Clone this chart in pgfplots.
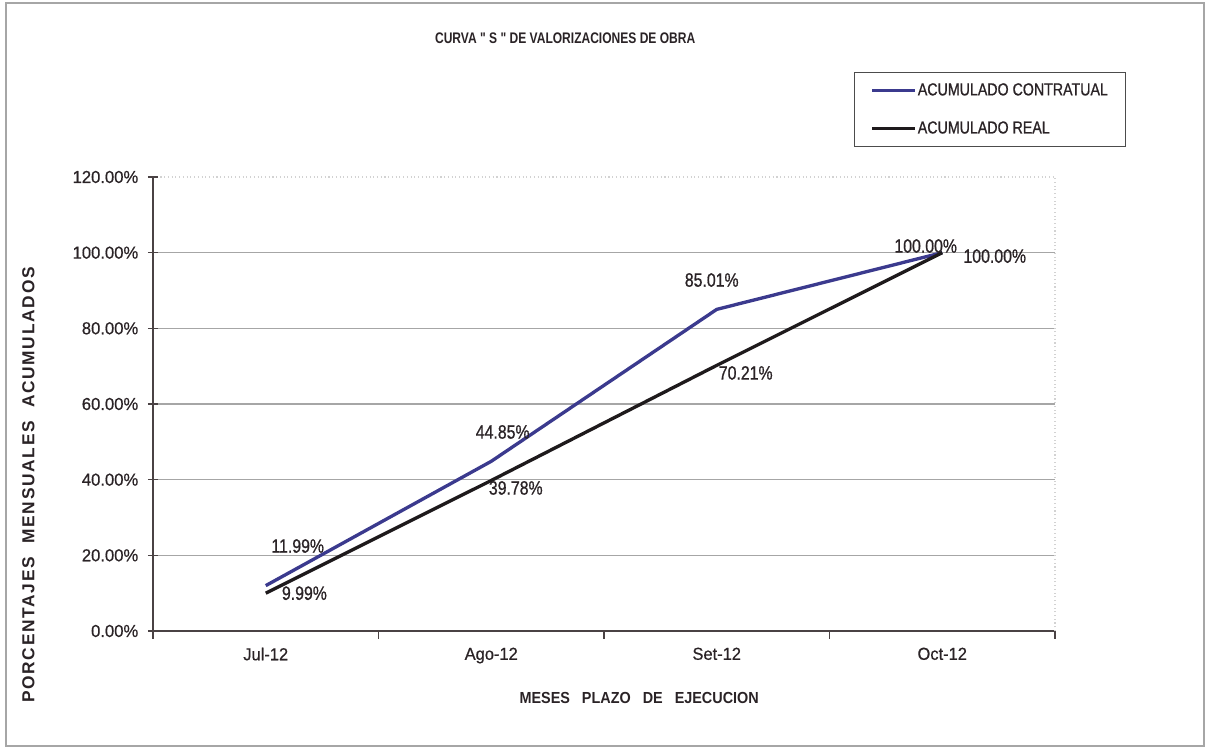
\documentclass[border=0pt]{standalone}
\usepackage{pgfplots}
\pgfplotsset{compat=1.18}
\usepackage{fontspec}
\setmainfont{Liberation Sans}
\newfontfamily\narrow[FakeStretch=0.82, FakeBold=0.8]{Liberation Sans}
\newfontfamily\ytl[FakeStretch=0.96, FakeBold=0.6]{Liberation Sans}
\newfontfamily\xtl[FakeStretch=0.95, FakeBold=0.6]{Liberation Sans}
\newfontfamily\xlab[FakeStretch=0.9]{Liberation Sans}
\newfontfamily\titlef[FakeStretch=0.785]{Liberation Sans}
\newfontfamily\wide[LetterSpace=10]{Liberation Sans}
\definecolor{blueline}{HTML}{3B3A8E}
\definecolor{blackline}{HTML}{1E1A1C}
\definecolor{axisc}{HTML}{4A4244}
\definecolor{txt}{HTML}{2A2326}
\tikzset{lbl/.style={font=\narrow\fontsize{14.5}{16}\selectfont, text=txt, inner sep=0pt}}
\begin{document}
\begin{tikzpicture}[x=1pt,y=1pt]
\useasboundingbox (0,0) rectangle (906,561.75);
\draw[gray!70, line width=0.9pt] (4.5,2.25) rectangle (903,559.5);
\begin{axis}[
  at={(114.75pt,88.5pt)}, anchor=south west,
  scale only axis, width=676.5pt, height=340.5pt,
  xmin=-0.5, xmax=3.5, ymin=0, ymax=120,
  axis lines=left, axis line style={-, axisc, line width=1.5pt},
  xtick={0,1,2,3}, xticklabels={Jul-12,Ago-12,Set-12,Oct-12},
  major x tick style={draw=none},
  minor xtick={-0.5,0.5,1.5,2.5,3.5},
  minor x tick style={axisc, line width=1pt},
  minor tick length=6pt,
  xtick align=outside,
  ytick={0,20,...,100}, extra y ticks={120},
  ytick align=center, major tick length=7.5pt,
  ytick style={axisc, line width=1pt},
  ymajorgrids, grid style={gray!70, line width=0.8pt},
  extra y tick style={grid style={gray!35, dotted, line width=0.8pt}},
  /pgf/number format/assume math mode=true,
  yticklabel={\pgfmathprintnumber[fixed,fixed zerofill,precision=2]{\tick}\%},
  y tick label style={font=\ytl\fontsize{13}{15}\selectfont, text=txt, xshift=-3.75pt},
  x tick label style={font=\xtl\fontsize{13}{15}\selectfont, text=txt, yshift=-1.5pt},
  every axis title shift=0pt,
  title={CURVA " S " DE VALORIZACIONES DE OBRA},
  title style={at={(0.457,1.306)}, anchor=center, font=\titlef\bfseries\fontsize{11.5}{13}\selectfont, text=txt},
  xlabel={MESES\hspace{9pt}PLAZO\hspace{9pt}DE\hspace{9pt}EJECUCION},
  xlabel style={at={(0.539,-0.1476)}, anchor=center, font=\xlab\bfseries\fontsize{12}{14}\selectfont, text=txt},
  ylabel={PORCENTAJES\ \ MENSUALES\ \ ACUMULADOS},
  ylabel style={at={(-0.138,0.3216)}, anchor=center, font=\wide\bfseries\fontsize{13}{15}\selectfont, text=txt},
  legend style={at={(0.7772,1.2313)}, anchor=north west, draw=gray!60!black, line width=0.9pt,
    font=\narrow\fontsize{13}{15}\selectfont, text=txt, inner xsep=12pt, inner ysep=7pt,
    nodes={inner sep=1pt}, row sep=16pt},
  legend cell align=left,
  legend image code/.code={\draw[#1, line width=2.4pt] (0pt,0pt) -- (32pt,0pt);},
  clip=false,
]
\draw[gray!35, dotted, line width=0.8pt] (rel axis cs:1,0) -- (rel axis cs:1,1);
\addplot[blueline, line width=2.5pt] coordinates {(0,11.99)(1,44.85)(2,85.01)(3,100)};
\addlegendentry{ACUMULADO CONTRATUAL}
\addplot[blackline, line width=2.5pt] coordinates {(0,9.99)(1,39.78)(2,70.21)(3,100)};
\addlegendentry{ACUMULADO REAL}
\node[lbl, xshift=24pt, yshift=29.7pt] at (axis cs:0,11.99) {11.99\%};
\node[lbl, xshift=29pt, yshift=0pt] at (axis cs:0,9.99) {9.99\%};
\node[lbl, xshift=8.6pt, yshift=22pt] at (axis cs:1,44.85) {44.85\%};
\node[lbl, xshift=18.4pt, yshift=-5.6pt] at (axis cs:1,39.78) {39.78\%};
\node[lbl, xshift=-3.75pt, yshift=22pt] at (axis cs:2,85.01) {85.01\%};
\node[lbl, xshift=21.75pt, yshift=-5.7pt] at (axis cs:2,70.21) {70.21\%};
\node[lbl, xshift=-12.4pt, yshift=5pt] at (axis cs:3,100) {100.00\%};
\node[lbl, xshift=39.4pt, yshift=-2.6pt] at (axis cs:3,100) {100.00\%};
\end{axis}
\end{tikzpicture}
\end{document}
